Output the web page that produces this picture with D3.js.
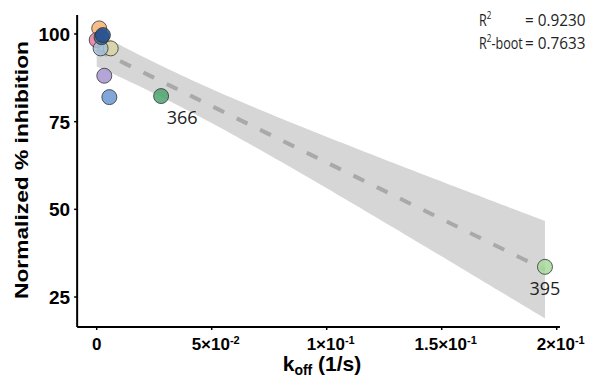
<!DOCTYPE html>
<html>
<head>
<meta charset="utf-8">
<script src="https://cdn.jsdelivr.net/npm/d3@7"></script>
<style>
	body { margin: 0; background: #fff; }
	svg { display: block; }
</style>
</head>
<body>
<div id="chart"></div>
<script>
const width = 597;
const height = 379;

// koff (1/s) and normalized % inhibition
const koff = [0.0011, 0.0000, 0.0061, 0.0017, 0.0021, 0.0027, 0.0033, 0.0055, 0.0280, 0.1949];
const inhibition = [101.6, 98.3, 95.9, 95.9, 99.1, 99.7, 88.1, 82.0, 82.3, 33.6];
const pointColors = ["#f7b072", "#e87aa0", "#d9d3a2", "#a3bfd6", "#2f6a8f", "#27508f", "#a695cf", "#6a97d3", "#4ea36e", "#a8d99c"];
const pointLabels = ["", "", "", "", "", "", "", "", "366", "395"];
const xTicks = [0, 0.05, 0.1, 0.15, 0.2];
const xTickText = [["0", ""], ["5\u00d710", "-2"], ["1\u00d710", "-1"], ["1.5\u00d710", "-1"], ["2\u00d710", "-1"]];
const yTicks = [25, 50, 75, 100];
const statLines = [["R", "2", "", "= 0.9230"], ["R", "2", "-boot", "= 0.7633"]];
const tCrit = 2.306; // t(0.975, df = 8)

const x = d3.scaleLinear().domain([0, 0.2]).range([96.7, 556.7]);
const y = d3.scaleLinear().domain([25, 100]).range([297, 34]);
const xMin = -0.0085, xMax = 0.2014, yMin = 16.45, yMax = 105.4;

const svg = d3.select("#chart").append("svg")
	.attr("width", width)
	.attr("height", height);

// linear fit with 95% confidence band
const n = koff.length;
const mx = d3.mean(koff), my = d3.mean(inhibition);
let sxx = 0, sxy = 0;
koff.forEach(function (v, i) {
	sxx += (v - mx) * (v - mx);
	sxy += (v - mx) * (inhibition[i] - my);
});
const slope = sxy / sxx;
const icpt = my - slope * mx;
let sse = 0;
koff.forEach(function (v, i) {
	const r = inhibition[i] - (icpt + slope * v);
	sse += r * r;
});
const sigma = Math.sqrt(sse / (n - 2));
const xs = d3.range(0, 81).map(function (k) {
	return d3.min(koff) + (d3.max(koff) - d3.min(koff)) * k / 80;
});
const band = xs.map(function (v) {
	const fit = icpt + slope * v;
	const se = sigma * Math.sqrt(1 / n + (v - mx) * (v - mx) / sxx);
	return { x: v, fit: fit, lo: fit - tCrit * se, hi: fit + tCrit * se };
});

svg.append("path")
	.datum(band)
	.attr("d", d3.area()
		.x(function (d) { return x(d.x); })
		.y0(function (d) { return y(d.lo); })
		.y1(function (d) { return y(d.hi); }))
	.attr("fill", "#d6d6d6");

svg.append("path")
	.datum(band)
	.attr("d", d3.line()
		.x(function (d) { return x(d.x); })
		.y(function (d) { return y(d.fit); }))
	.attr("fill", "none")
	.attr("stroke", "#a9a9a9")
	.attr("stroke-width", 4)
	.attr("stroke-dasharray", "12,14");

// axes
const axisFont = "'Liberation Sans', Arial, sans-serif";
svg.append("line")
	.attr("x1", x(xMin)).attr("x2", x(xMax))
	.attr("y1", y(yMin)).attr("y2", y(yMin))
	.attr("stroke", "#000").attr("stroke-width", 2);
svg.append("line")
	.attr("x1", x(xMin)).attr("x2", x(xMin))
	.attr("y1", y(yMax)).attr("y2", y(yMin))
	.attr("stroke", "#000").attr("stroke-width", 2);

svg.selectAll(".ytick")
	.data(yTicks)
	.enter()
	.append("line")
	.attr("x1", x(xMin) - 3).attr("x2", x(xMin))
	.attr("y1", function (d) { return y(d); })
	.attr("y2", function (d) { return y(d); })
	.attr("stroke", "#000").attr("stroke-width", 1.5);

svg.selectAll(".ylab")
	.data(yTicks)
	.enter()
	.append("text")
	.attr("x", x(xMin) - 7)
	.attr("y", function (d) { return y(d) + 7; })
	.attr("text-anchor", "end")
	.style("font-family", axisFont)
	.style("font-weight", "bold")
	.style("font-size", "19px")
	.text(function (d) { return d; });

svg.selectAll(".xtick")
	.data(xTicks)
	.enter()
	.append("line")
	.attr("x1", function (d) { return x(d); })
	.attr("x2", function (d) { return x(d); })
	.attr("y1", y(yMin)).attr("y2", y(yMin) + 3)
	.attr("stroke", "#000").attr("stroke-width", 1.5);

const xl = svg.selectAll(".xlab")
	.data(xTicks)
	.enter()
	.append("text")
	.attr("x", function (d) { return x(d) + (d === 0 ? 0 : 4); })
	.attr("y", 350)
	.attr("text-anchor", "middle")
	.style("font-family", axisFont)
	.style("font-weight", "bold")
	.style("font-size", "17px");
xl.append("tspan").text(function (d, i) { return xTickText[i][0]; });
xl.append("tspan")
	.attr("dy", -6)
	.style("font-size", "11px")
	.text(function (d, i) { return xTickText[i][1]; });

const xt = svg.append("text")
	.attr("x", 322)
	.attr("y", 371)
	.attr("text-anchor", "middle")
	.style("font-family", axisFont)
	.style("font-weight", "bold")
	.style("font-size", "21px");
xt.append("tspan").text("k");
xt.append("tspan").attr("dy", 4).style("font-size", "14px").text("off");
xt.append("tspan").attr("dy", -4).text(" (1/s)");

svg.append("text")
	.attr("transform", "translate(28,170) rotate(-90)")
	.attr("text-anchor", "middle")
	.attr("textLength", 258)
	.attr("lengthAdjust", "spacingAndGlyphs")
	.style("font-family", axisFont)
	.style("font-weight", "bold")
	.style("font-size", "19px")
	.text("Normalized % inhibition");

// points
svg.selectAll(".pt")
	.data(koff)
	.enter()
	.append("circle")
	.attr("cx", function (d) { return x(d); })
	.attr("cy", function (d, i) { return y(inhibition[i]); })
	.attr("r", 7.5)
	.attr("fill", function (d, i) { return pointColors[i]; })
	.attr("fill-opacity", 0.85)
	.attr("stroke", "#333")
	.attr("stroke-width", 0.8);

svg.selectAll(".plab")
	.data(koff)
	.enter()
	.append("text")
	.attr("x", function (d) { return x(d) + 21; })
	.attr("y", function (d, i) { return y(inhibition[i]) + 28; })
	.attr("text-anchor", "middle")
	.style("font-family", "'Open Sans', sans-serif")
	.style("font-size", "18px")
	.style("fill", "#222")
	.text(function (d, i) { return pointLabels[i]; })
	.filter(function (d, i) { return i === n - 1; })
	.attr("x", function (d) { return x(d); });

// fit statistics
statLines.forEach(function (s, i) {
	const by = 26 + i * 23;
	const t = svg.append("text")
		.attr("transform", "translate(479," + by + ") scale(0.74,1)")
		.style("font-family", "'Open Sans', sans-serif")
		.style("font-size", "17px")
		.style("fill", "#222");
	t.append("tspan").text(s[0]);
	t.append("tspan").attr("dy", -7).style("font-size", "11px").text(s[1]);
	t.append("tspan").attr("dy", 7).text(s[2]);
	svg.append("text")
		.attr("transform", "translate(525," + by + ") scale(0.9,1)")
		.style("font-family", "'Open Sans', sans-serif")
		.style("font-size", "17px")
		.style("fill", "#222")
		.text(s[3]);
});
</script>
</body>
</html>
